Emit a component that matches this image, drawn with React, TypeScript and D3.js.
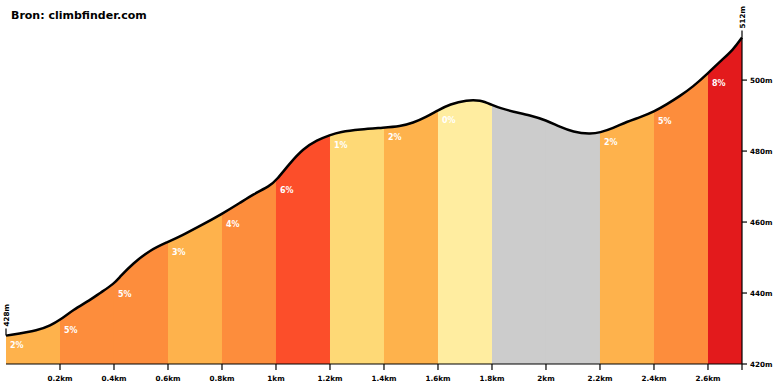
import React from "react";
import * as d3 from "d3";

const title = "Bron: climbfinder.com";
const distKm = [0, 0.126, 0.163, 0.2, 0.248, 0.311, 0.348, 0.4, 0.422, 0.47, 0.533, 0.6, 0.656, 0.719, 0.8, 0.867, 0.915, 0.978, 1.0, 1.052, 1.1, 1.152, 1.2, 1.237, 1.311, 1.4, 1.459, 1.507, 1.559, 1.6, 1.644, 1.707, 1.756, 1.8, 1.83, 1.878, 1.941, 2.0, 2.052, 2.1, 2.163, 2.2, 2.248, 2.3, 2.348, 2.4, 2.448, 2.496, 2.544, 2.6, 2.644, 2.693, 2.726];
const elevM = [428, 429.6, 430.8, 432.4, 435.2, 438.0, 440.0, 442.6, 444.6, 448.3, 452.1, 454.4, 456.4, 458.9, 462.3, 465.4, 467.8, 470.2, 471.7, 476.6, 480.6, 483.1, 484.5, 485.4, 486.1, 486.6, 487.0, 487.9, 489.7, 491.5, 493.2, 494.4, 494.4, 493.0, 492.1, 491.1, 490.1, 488.7, 486.8, 485.4, 484.8, 485.2, 486.4, 488.3, 489.5, 491.1, 493.2, 495.5, 498.1, 501.9, 505.2, 508.5, 512];
const segStarts = [0, 0.2, 0.4, 0.6, 0.8, 1.0, 1.2, 1.4, 1.6, 1.8, 2.0, 2.2, 2.4, 2.6];
const segGrades = [2, 5, 5, 3, 4, 6, 1, 2, 0, -2, -2, 2, 5, 8];
const xTickValues = [0.2, 0.4, 0.6, 0.8, 1.0, 1.2, 1.4, 1.6, 1.8, 2.0, 2.2, 2.4, 2.6];
const xTickLabels = ["0.2km", "0.4km", "0.6km", "0.8km", "1km", "1.2km", "1.4km", "1.6km", "1.8km", "2km", "2.2km", "2.4km", "2.6km"];
const yTickValues = [420, 440, 460, 480, 500];
const gradeThresholds = [0, 1, 2, 4, 6, 8];
const gradeColors = ["#cccccc", "#ffeda0", "#fed976", "#feb24c", "#fd8d3c", "#fc4e2a", "#e31a1c"];

const FONT = "'DejaVu Sans', Verdana, sans-serif";

export default function App() {
  const W = 780, H = 390;
  const total = distKm[distKm.length - 1];
  const x = d3.scaleLinear().domain([0, total]).range([6, 742]);
  const y = d3.scaleLinear().domain([420, 512]).range([364, 37.5]);
  const color = d3.scaleThreshold<number, string>().domain(gradeThresholds).range(gradeColors);
  const pts: [number, number][] = distKm.map((d, i) => [d, elevM[i]]);
  const area = d3.area<[number, number]>().x(d => x(d[0])).y0(y(420)).y1(d => y(d[1])).curve(d3.curveBasis);
  const line = d3.line<[number, number]>().x(d => x(d[0])).y(d => y(d[1])).curve(d3.curveBasis);
  const interp = (km: number) => {
    const i = d3.bisectLeft(distKm, km);
    if (i <= 0) return elevM[0];
    if (i >= distKm.length) return elevM[elevM.length - 1];
    const t = (km - distKm[i - 1]) / (distKm[i] - distKm[i - 1]);
    return elevM[i - 1] + t * (elevM[i] - elevM[i - 1]);
  };
  const segEnds = segStarts.map((s, i) => (i < segStarts.length - 1 ? segStarts[i + 1] : total));
  return (
    <svg width={W} height={H} style={{ display: "block", position: "absolute", left: 0, top: 0 }}>
      <defs>
        <clipPath id="profileClip">
          <path d={area(pts) || ""} />
        </clipPath>
      </defs>
      <rect x={0} y={0} width={W} height={H} fill="#fff" />
      <g clipPath="url(#profileClip)">
        {segStarts.map((s, i) => (
          <rect key={i} x={x(s)} y={0} width={x(segEnds[i]) - x(s)} height={y(420)} fill={color(segGrades[i])} />
        ))}
      </g>
      <path d={line(pts) || ""} fill="none" stroke="#000" strokeWidth={2.5} strokeLinejoin="round" />
      {segStarts.map((s, i) =>
        segGrades[i] >= 0 ? (
          <text key={i} x={x(s) + 4} y={y(interp(s)) + 10} dy="0.35em" fill="#fff" fontFamily={FONT} fontWeight="bold" fontSize={8}>
            {segGrades[i] + "%"}
          </text>
        ) : null
      )}
      {/* x axis */}
      <line x1={x(0)} x2={x(total)} y1={y(420)} y2={y(420)} stroke="#000" strokeWidth={1.2} />
      {xTickValues.map((v, i) => (
        <g key={i} transform={`translate(${x(v)},${y(420)})`}>
          <line y1={0} y2={6} stroke="#000" strokeWidth={1.2} />
          <text y={14} dy="0.35em" textAnchor="middle" fontFamily={FONT} fontWeight="bold" fontSize={7.2} fill="#000">{xTickLabels[i]}</text>
        </g>
      ))}
      <line x1={x(total)} x2={x(total)} y1={y(420)} y2={y(420) + 6} stroke="#000" strokeWidth={1.2} />
      {/* y axis */}
      <line x1={x(total)} x2={x(total)} y1={y(512)} y2={y(420)} stroke="#000" strokeWidth={1.2} />
      {yTickValues.map((v, i) => (
        <g key={i} transform={`translate(${x(total)},${y(v)})`}>
          <line x1={0} x2={5} stroke="#000" strokeWidth={1.2} />
          <text x={8} dy="0.35em" fontFamily={FONT} fontWeight="bold" fontSize={7.2} fill="#000">{v + "m"}</text>
        </g>
      ))}
      {/* start / end elevation labels */}
      <g transform={`translate(${x(0)},${y(elevM[0])})`}>
        <line y1={0} y2={-7} stroke="#000" strokeWidth={1.2} />
        <text transform="translate(0,-9) rotate(-90)" dy="0.35em" fontFamily={FONT} fontWeight="bold" fontSize={7.2} fill="#000">{Math.round(elevM[0]) + "m"}</text>
      </g>
      <g transform={`translate(${x(total)},${y(elevM[elevM.length - 1])})`}>
        <line y1={0} y2={-7} stroke="#000" strokeWidth={1.2} />
        <text transform="translate(0,-9) rotate(-90)" dy="0.35em" fontFamily={FONT} fontWeight="bold" fontSize={7.2} fill="#000">{Math.round(elevM[elevM.length - 1]) + "m"}</text>
      </g>
      <text x={11} y={19} fontFamily={FONT} fontWeight="bold" fontSize={11} fill="#000">{title}</text>
    </svg>
  );
}
